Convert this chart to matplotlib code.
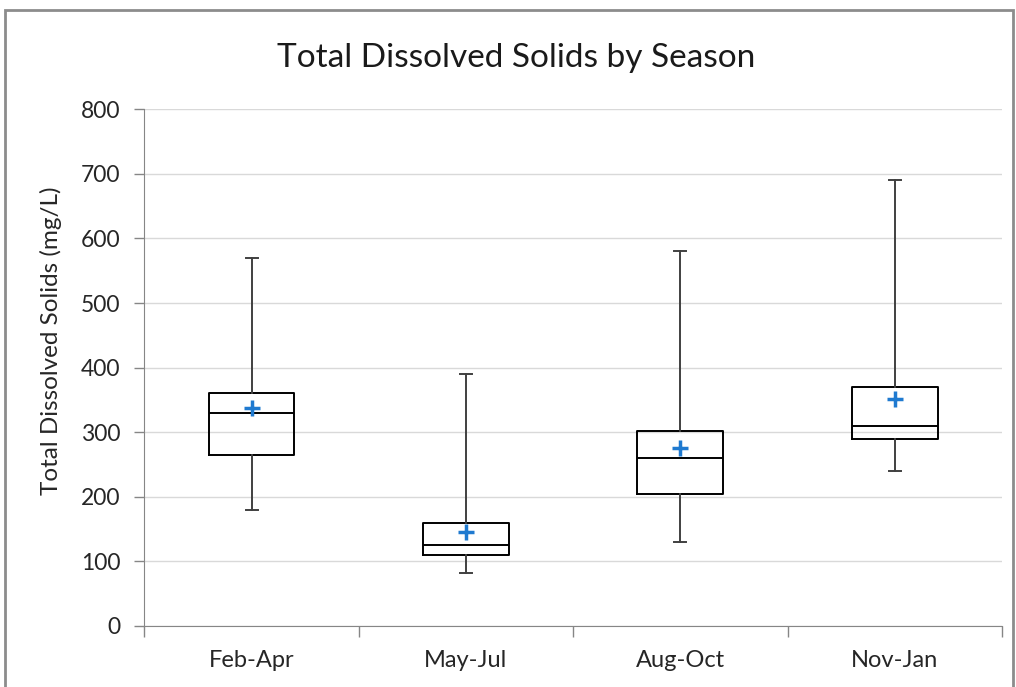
import matplotlib
matplotlib.use("Agg")
import matplotlib.pyplot as plt
from matplotlib.patches import Rectangle
import numpy as np

seasons = ["Feb-Apr", "May-Jul", "Aug-Oct", "Nov-Jan"]
whisker_low = [180, 82, 130, 240]
q1 = [265, 110, 205, 290]
median = [330, 125, 260, 310]
q3 = [360, 160, 302, 370]
whisker_high = [570, 390, 580, 690]
mean = [338, 145, 276, 352]
y_ticks = [0, 100, 200, 300, 400, 500, 600, 700, 800]

plt.rcParams['font.family'] = ['Lato', 'DejaVu Sans']

fig = plt.figure(figsize=(10.16, 6.87), dpi=100)
ax = fig.add_axes([144.3 / 1016, 1 - 626 / 687, (1002 - 144.3) / 1016, (626 - 109.3) / 687])

stats = []
for i, s in enumerate(seasons):
    stats.append(dict(label=s, whislo=whisker_low[i], q1=q1[i], med=median[i],
                      q3=q3[i], whishi=whisker_high[i], mean=mean[i], fliers=[]))

pos = np.arange(len(seasons))
ax.bxp(stats, positions=pos, widths=0.4, capwidths=0.056, showmeans=True,
       showfliers=False, patch_artist=False,
       boxprops=dict(color='black', linewidth=1.4),
       medianprops=dict(color='black', linewidth=1.4),
       whiskerprops=dict(color='#404040', linewidth=1.4),
       capprops=dict(color='#404040', linewidth=1.4),
       meanprops=dict(marker='+', markeredgecolor='#1f7ad0', markersize=12,
                      markeredgewidth=2.5, linestyle='none'),
       zorder=3)

ax.set_xlim(-0.5, len(seasons) - 0.5)
ax.set_ylim(0, 800)
ax.set_yticks(y_ticks)
ax.set_yticklabels([str(v) for v in y_ticks], fontsize=16.5, color='#262626')
ax.tick_params(axis='y', length=7, color='#868686', width=1, pad=10)

ax.set_xticks(np.arange(-0.5, len(seasons)), labels=[''] * (len(seasons) + 1))
ax.set_xticks(pos, minor=True)
ax.set_xticklabels(seasons, minor=True, fontsize=17, color='#262626')
ax.tick_params(axis='x', which='major', length=8, color='#868686', width=1)
ax.tick_params(axis='x', which='minor', length=0, pad=17)

ax.yaxis.grid(True, color='#d9d9d9', linewidth=1)
ax.set_axisbelow(True)
for side in ['top', 'right']:
    ax.spines[side].set_visible(False)
ax.spines['left'].set_color('#868686')
ax.spines['bottom'].set_color('#868686')

fig.text(51 / 1016, 1 - 341 / 687, 'Total Dissolved Solids (mg/L)', rotation=90,
         ha='center', va='center', fontsize=17.5, color='#262626')
fig.text(516 / 1016, 1 - 67 / 687, 'Total Dissolved Solids by Season',
         ha='center', va='baseline', fontsize=24, color='#1a1a1a')

fig.patches.append(Rectangle((5 / 1016, -0.1), (1013 - 5) / 1016, 1.1 - 10 / 687,
                             transform=fig.transFigure, fill=False,
                             edgecolor='#8c8c8c', linewidth=2, figure=fig))

fig.savefig('out.png', dpi=100)
